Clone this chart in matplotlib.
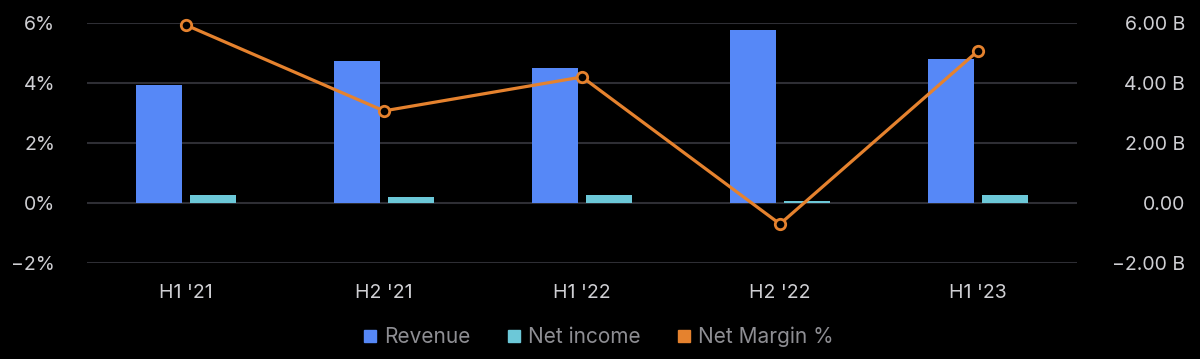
import matplotlib
matplotlib.use("Agg")
import matplotlib.pyplot as plt
import numpy as np
from matplotlib.lines import Line2D
from matplotlib.ticker import FuncFormatter

plt.rcParams["font.family"] = ["Inter", "DejaVu Sans"]

# Datos
periodos = ["H1 '21", "H2 '21", "H1 '22", "H2 '22", "H1 '23"]
revenue_b = [3.93, 4.73, 4.50, 5.77, 4.80]
net_income_b = [0.27, 0.20, 0.27, 0.07, 0.27]
net_margin_pct = [5.93, 3.07, 4.20, -0.70, 5.07]

C_REV = "#5688F7"
C_NI = "#6CC8D8"
C_NM = "#E5822E"
C_GRID = "#2e2e34"
C_TICK = "#cfcfd3"
C_LEG = "#8e8e93"

fig = plt.figure(figsize=(12, 3.59), dpi=100, facecolor="black")
ax = fig.add_axes([0.0725, 0.2674, 0.825, 0.6686])  # eje % (línea)
ax2 = ax.twinx()  # eje B (barras)

x = np.arange(len(periodos))
w = 0.235
off = 0.137

ax2.bar(x - off, revenue_b, w, color=C_REV, zorder=2)
ax2.bar(x + off, net_income_b, w, color=C_NI, zorder=2)
ax2.set_ylim(-2, 6)
ax2.set_yticks([-2, 0, 2, 4, 6])
ax2.yaxis.set_major_formatter(
    FuncFormatter(lambda v, p: "0.00" if v == 0 else f"{v:.2f} B".replace("-", "\u2212"))
)
ax2.grid(axis="y", color=C_GRID, linewidth=1.5, zorder=0)
ax2.set_axisbelow(True)

ax.plot(x, net_margin_pct, color=C_NM, linewidth=2.3, marker="o", markersize=7.5,
        markerfacecolor="black", markeredgecolor=C_NM, markeredgewidth=2.0,
        clip_on=False, zorder=5)
ax.set_ylim(-2, 6)
ax.set_yticks([-2, 0, 2, 4, 6])
ax.yaxis.set_major_formatter(FuncFormatter(lambda v, p: f"{v:.0f}%".replace("-", "\u2212")))
ax.set_xlim(-0.5, len(periodos) - 0.5)
ax.set_xticks(x)
ax.set_xticklabels(periodos)

ax.set_zorder(ax2.get_zorder() + 1)
ax.patch.set_visible(False)
ax2.set_facecolor("black")

for a in (ax, ax2):
    for s in a.spines.values():
        s.set_visible(False)
    a.tick_params(length=0, colors=C_TICK, labelsize=14)

ax.tick_params(axis="y", pad=23)
ax.tick_params(axis="x", pad=15)
ax2.tick_params(axis="y", pad=78)
for lbl in ax2.get_yticklabels():
    lbl.set_horizontalalignment("right")

handles = [
    Line2D([], [], marker="s", linestyle="none", color=C_REV, markersize=8),
    Line2D([], [], marker="s", linestyle="none", color=C_NI, markersize=8),
    Line2D([], [], marker="s", linestyle="none", color=C_NM, markersize=8),
]
leg = fig.legend(handles, ["Revenue", "Net income", "Net Margin %"], loc="center",
                 bbox_to_anchor=(0.498, 0.062), ncol=3, frameon=False, fontsize=15,
                 handletextpad=0.25, columnspacing=1.7, handlelength=0.8)
for t in leg.get_texts():
    t.set_color(C_LEG)

fig.savefig("out.png", dpi=100, facecolor="black")
